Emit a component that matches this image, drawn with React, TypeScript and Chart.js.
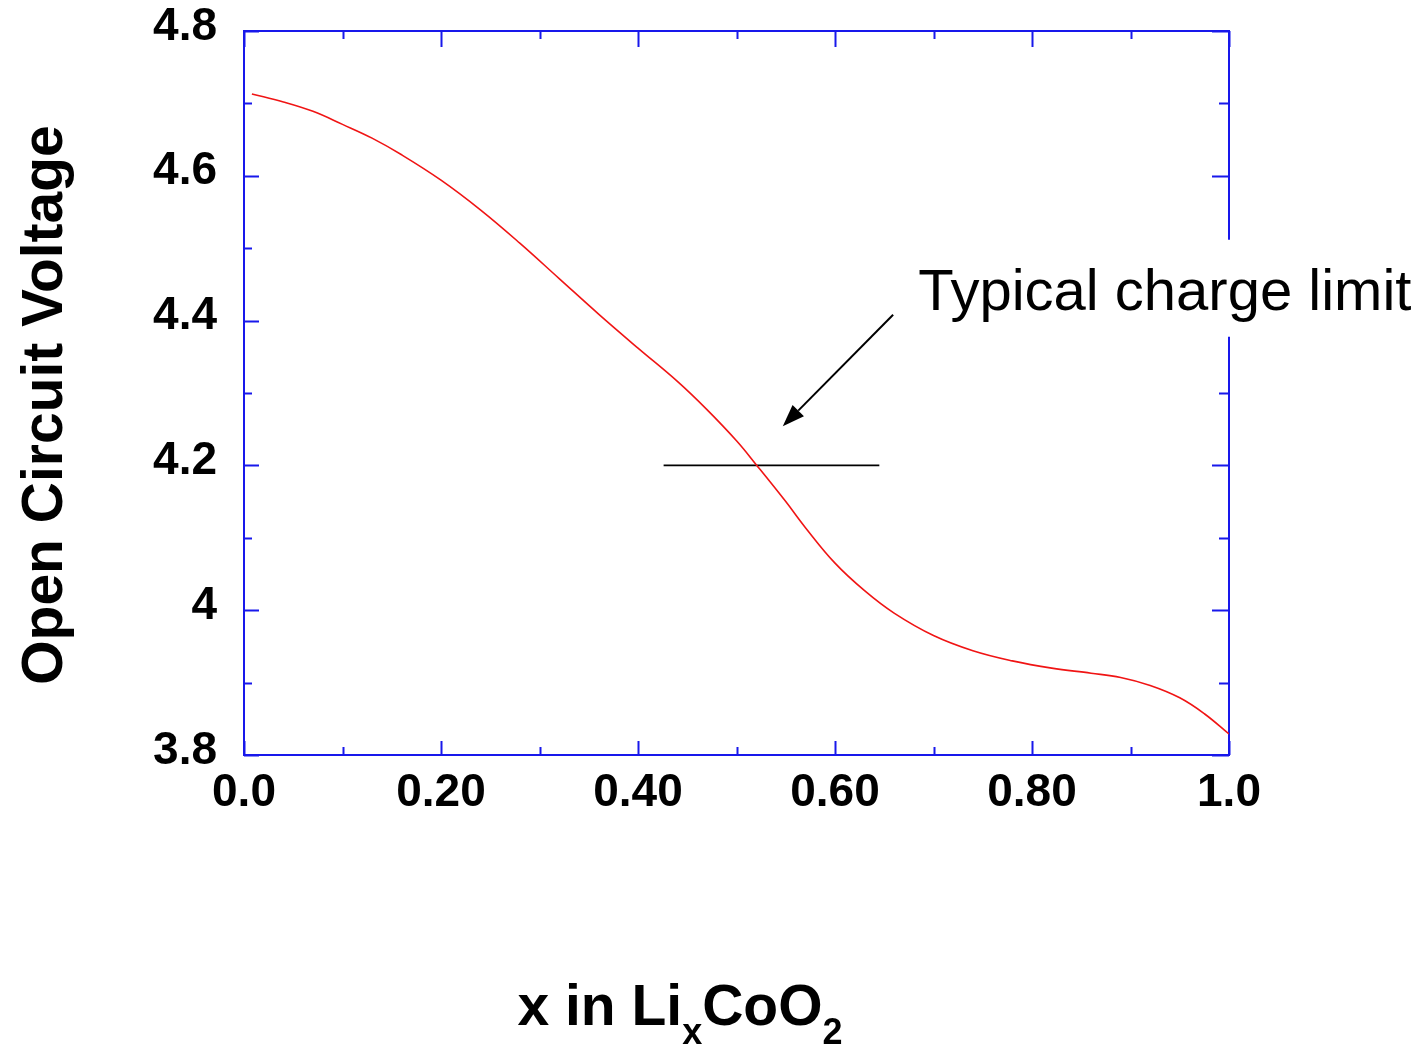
import { useEffect, useRef } from 'react';
import { Chart, registerables } from 'chart.js';

Chart.register(...registerables);

// ---- data ----
const xValues = [
  0.008, 0.04, 0.07, 0.1, 0.13, 0.16, 0.2, 0.24, 0.28, 0.32, 0.36, 0.4, 0.44, 0.47, 0.5,
  0.52, 0.55, 0.57, 0.6, 0.63, 0.66, 0.7, 0.74, 0.78, 0.82, 0.86, 0.89, 0.92, 0.95, 0.975,
  1.0,
];
const ocvValues = [
  4.713, 4.702, 4.689, 4.671, 4.652, 4.629, 4.594, 4.553, 4.507, 4.458, 4.409, 4.362, 4.316,
  4.277, 4.234, 4.201, 4.15, 4.114, 4.065, 4.027, 3.996, 3.965, 3.944, 3.93, 3.92, 3.913,
  3.907, 3.896, 3.879, 3.857, 3.829,
];
const chargeLimitX = [0.426, 0.645];
const chargeLimitY = [4.2, 4.2];

const xTickLabels = ['0.0', '0.20', '0.40', '0.60', '0.80', '1.0'];
const yTickLabels = ['3.8', '4', '4.2', '4.4', '4.6', '4.8'];

const yTitle = 'Open Circuit Voltage';
const xTitleParts = [
  { text: 'x in Li', sub: false },
  { text: 'x', sub: true },
  { text: 'CoO', sub: false },
  { text: '2', sub: true },
];
const annotationText = 'Typical charge limit';
const arrowTail = { x: 0.659, y: 4.408 };
const arrowTip = { x: 0.547, y: 4.254 };
const annotationAnchor = { x: 0.6845, y: 4.415 };

// ---- styles ----
const FONT = '"Liberation Sans", Arial, Helvetica, sans-serif';
const BLUE = 'rgb(24,24,235)';

const decorPlugin = {
  id: 'decor',
  beforeDatasetsDraw(chart: any) {
    const { ctx, chartArea, scales } = chart;
    const { left, right, top, bottom } = chartArea;
    const xs = scales.x;
    const ys = scales.y;
    ctx.save();
    ctx.strokeStyle = BLUE;
    ctx.lineWidth = 2;
    ctx.strokeRect(left, top, right - left, bottom - top);
    ctx.beginPath();
    xs.ticks.forEach((t: any, i: number) => {
      const px = Math.round(xs.getPixelForValue(t.value)) + 0.5;
      const major = i % 2 === 0;
      const lb = major ? 14 : 8;
      const lt = major ? 16 : 8;
      ctx.moveTo(px, bottom);
      ctx.lineTo(px, bottom - lb);
      ctx.moveTo(px, top);
      ctx.lineTo(px, top + lt);
    });
    ys.ticks.forEach((t: any, i: number) => {
      const py = Math.round(ys.getPixelForValue(t.value)) + 0.5;
      const major = i % 2 === 0;
      const ll = major ? 15 : 8;
      const lr = major ? 17 : 10;
      ctx.moveTo(left, py);
      ctx.lineTo(left + ll, py);
      ctx.moveTo(right, py);
      ctx.lineTo(right - lr, py);
    });
    ctx.stroke();
    ctx.restore();
  },
  afterDraw(chart: any) {
    const { ctx, chartArea, scales } = chart;
    const xs = scales.x;
    const ys = scales.y;
    ctx.save();

    // annotation text with white box
    const tx = xs.getPixelForValue(annotationAnchor.x);
    const ty = ys.getPixelForValue(annotationAnchor.y);
    ctx.fillStyle = '#ffffff';
    ctx.fillRect(tx - 13, ty - 70, chart.width - (tx - 13), 97);
    ctx.fillStyle = '#000';
    ctx.font = `58px ${FONT}`;
    ctx.textAlign = 'left';
    ctx.textBaseline = 'alphabetic';
    ctx.fillText(annotationText, tx, ty);

    // arrow
    const ax0 = xs.getPixelForValue(arrowTail.x);
    const ay0 = ys.getPixelForValue(arrowTail.y);
    const ax1 = xs.getPixelForValue(arrowTip.x);
    const ay1 = ys.getPixelForValue(arrowTip.y);
    const ang = Math.atan2(ay1 - ay0, ax1 - ax0);
    const headLen = 22;
    const headW = 8;
    const bx = ax1 - headLen * Math.cos(ang);
    const by = ay1 - headLen * Math.sin(ang);
    ctx.strokeStyle = '#000';
    ctx.lineWidth = 2;
    ctx.beginPath();
    ctx.moveTo(ax0, ay0);
    ctx.lineTo(bx, by);
    ctx.stroke();
    ctx.beginPath();
    ctx.moveTo(ax1, ay1);
    ctx.lineTo(bx + headW * Math.sin(ang), by - headW * Math.cos(ang));
    ctx.lineTo(bx - headW * Math.sin(ang), by + headW * Math.cos(ang));
    ctx.closePath();
    ctx.fillStyle = '#000';
    ctx.fill();

    // y axis title
    ctx.save();
    ctx.translate(46, (chartArea.top + chartArea.bottom) / 2 + 12);
    ctx.rotate(-Math.PI / 2);
    ctx.font = `bold 57px ${FONT}`;
    ctx.textAlign = 'center';
    ctx.textBaseline = 'middle';
    ctx.fillStyle = '#000';
    ctx.fillText(yTitle, 0, 0);
    ctx.restore();

    // x axis title with subscripts
    const mainFont = `bold 57px ${FONT}`;
    const subFont = `bold 36px ${FONT}`;
    let total = 0;
    const widths = xTitleParts.map((p) => {
      ctx.font = p.sub ? subFont : mainFont;
      const w = ctx.measureText(p.text).width;
      total += w;
      return w;
    });
    let cx = 680 - total / 2;
    const baseY = 1025;
    ctx.textAlign = 'left';
    ctx.textBaseline = 'alphabetic';
    xTitleParts.forEach((p, i) => {
      ctx.font = p.sub ? subFont : mainFont;
      ctx.fillText(p.text, cx, p.sub ? baseY + 19 : baseY);
      cx += widths[i];
    });

    ctx.restore();
  },
};

export default function App() {
  const canvasRef = useRef<HTMLCanvasElement>(null);

  useEffect(() => {
    if (!canvasRef.current) return;
    const chart = new Chart(canvasRef.current, {
      type: 'line',
      data: {
        datasets: [
          {
            label: 'OCV',
            data: xValues.map((x, i) => ({ x, y: ocvValues[i] })),
            borderColor: 'rgb(240,20,20)',
            borderWidth: 1.6,
            pointRadius: 0,
            fill: false,
            tension: 0.4,
          },
          {
            label: 'Charge limit',
            data: chargeLimitX.map((x, i) => ({ x, y: chargeLimitY[i] })),
            borderColor: '#000',
            borderWidth: 1.6,
            pointRadius: 0,
            fill: false,
          },
        ],
      },
      options: {
        responsive: false,
        animation: false,
        devicePixelRatio: 1,
        layout: { padding: { top: 31, right: 196, left: 0, bottom: 0 } },
        plugins: {
          legend: { display: false },
          tooltip: { enabled: false },
        },
        scales: {
          x: {
            type: 'linear',
            position: 'bottom',
            min: 0,
            max: 1,
            grid: { display: false, drawTicks: false },
            border: { display: false },
            ticks: {
              stepSize: 0.1,
              autoSkip: false,
              maxRotation: 0,
              padding: 11,
              color: '#000',
              font: { family: FONT, size: 46, weight: 'bold' },
              callback: (_v: any, i: number) => (i % 2 === 0 ? xTickLabels[i / 2] : ''),
            },
            afterFit: (s: any) => {
              s.height = 291;
              s.paddingLeft = 0;
              s.paddingRight = 0;
            },
          },
          y: {
            type: 'linear',
            position: 'left',
            min: 3.8,
            max: 4.8,
            grid: { display: false, drawTicks: false },
            border: { display: false },
            ticks: {
              stepSize: 0.1,
              autoSkip: false,
              padding: 27,
              labelOffset: -4,
              color: '#000',
              font: { family: FONT, size: 46, weight: 'bold' },
              callback: (_v: any, i: number) => (i % 2 === 0 ? yTickLabels[i / 2] : ''),
            },
            afterFit: (s: any) => {
              s.width = 244;
              s.paddingTop = 0;
              s.paddingBottom = 0;
            },
          },
        },
      },
      plugins: [decorPlugin],
    } as any);
    return () => chart.destroy();
  }, []);

  return (
    <div style={{ position: 'absolute', left: 0, top: 0, width: 1425, height: 1046, background: '#fff' }}>
      <canvas ref={canvasRef} width={1425} height={1046} style={{ display: 'block' }} />
    </div>
  );
}
